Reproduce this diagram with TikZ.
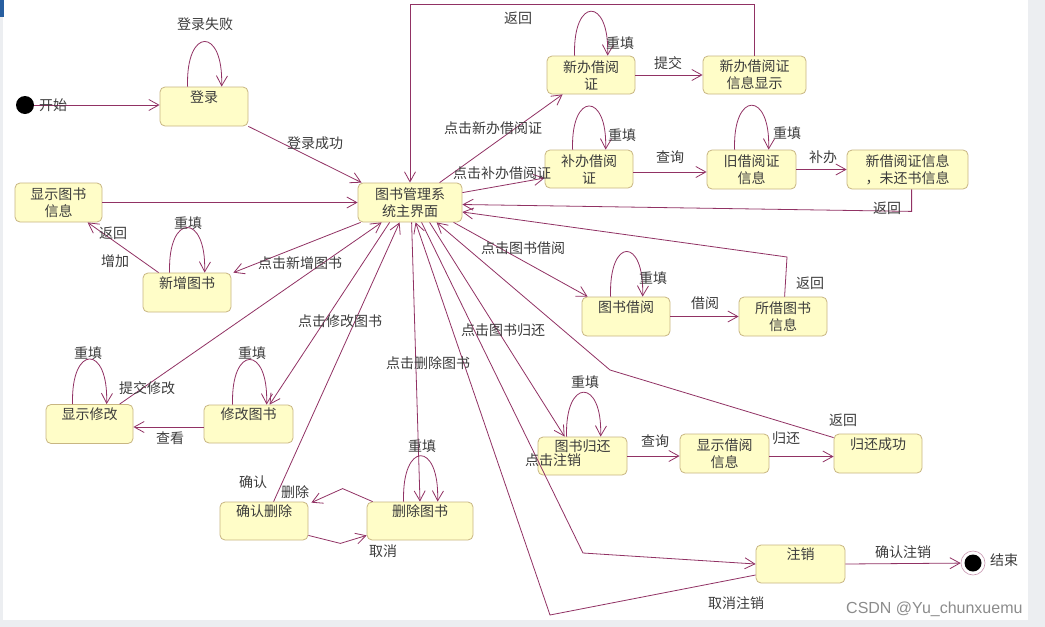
\documentclass[tikz,border=0pt]{standalone}
\usepackage{fontspec}
\newfontfamily\cjk{Noto Sans CJK SC}
\newfontfamily\wmfont{Liberation Sans}
\usetikzlibrary{arrows.meta,calc}
\definecolor{edgec}{RGB}{145,50,100}
\definecolor{nfill}{RGB}{255,253,200}
\definecolor{nbord}{RGB}{200,182,130}
\definecolor{txtc}{RGB}{60,60,60}
\definecolor{framec}{RGB}{236,238,241}
\definecolor{cornerc}{RGB}{40,95,160}
\begin{document}
\begin{tikzpicture}[x=1pt,y=-1pt,
  every node/.style={font=\cjk\fontsize{14}{17}\selectfont, text=txtc},
  st/.style={draw=nbord, fill=nfill, rounded corners=5pt, minimum height=39pt, minimum width=88pt, inner sep=0pt, align=center, line width=0.8pt},
  topt/.style={text height=13pt, text depth=22pt},
  arr/.style={draw=edgec, line width=0.8pt, -{Straight Barb[length=10pt,width=11pt]}},
  lbl/.style={inner sep=0pt},
]
\useasboundingbox (0,0) rectangle (1045,627);
\fill[white] (0,0) rectangle (1045,627);
\fill[framec] (1028,0) rectangle (1045,627);
\fill[framec] (0,620) rectangle (1045,627);
\fill[framec] (0,0) rectangle (3,620);
\fill[cornerc] (0,0) rectangle (4,17);

% states
\node[st, topt] (login) at (204,106.5) {登录};
\node[st, minimum width=87pt] (showbook) at (58.5,202.5) {显示图书\\信息};
\node[st, minimum width=104pt] (main) at (410,202.5) {图书管理系\\统主界面};
\node[st, minimum height=38pt] (newcard) at (591,75) {新办借阅\\证};
\node[st, minimum width=103pt, minimum height=38pt] (newinfo) at (754.5,75) {新办借阅证\\信息显示};
\node[st, minimum height=38pt] (recard) at (589,169) {补办借阅\\证};
\node[st, minimum width=89pt] (oldinfo) at (751.5,169.5) {旧借阅证\\信息};
\node[st, minimum width=121pt] (newinfo2) at (907.5,169.5) {新借阅证信息\\，未还书信息};
\node[st, topt] (addbook) at (187,292.5) {新增图书};
\node[st, topt] (borrow) at (626,316.5) {图书借阅};
\node[st] (borrowed) at (783,316.5) {所借图书\\信息};
\node[st, minimum width=87pt, topt] (showmod) at (89.5,424) {显示修改};
\node[st, minimum width=89pt, minimum height=38pt, topt] (modbook) at (248.5,424) {修改图书};
\node[st, minimum width=89pt, minimum height=38pt, topt] (retbook) at (582.5,456) {图书归还};
\node[st, minimum width=89pt] (showborrow) at (724.5,453.5) {显示借阅\\信息};
\node[st, topt] (retok) at (878,453.5) {归还成功};
\node[st, minimum height=38pt, topt] (confdel) at (264,521) {确认删除};
\node[st, minimum width=106pt, minimum height=38pt, topt] (delbook) at (420,521) {删除图书};
\node[st, minimum width=89pt, minimum height=38pt, topt] (logout) at (800.5,564) {注销};

\node[circle, fill=black, minimum size=18pt, inner sep=0pt] (start) at (25,105) {};
\node[circle, draw=edgec!50, line width=0.6pt, minimum size=24pt, inner sep=0pt,
  path picture={\fill[black] (path picture bounding box.center) circle (8.5pt);}] (end) at (973,563) {};

% connectors
\draw[arr] (start) -- (start -| login.west);
\draw[arr] ([xshift=28pt]login.north west) .. controls +(-2,-60) and +(2,-60) .. ([xshift=62pt]login.north west);
\draw[arr] (login.south east) -- ([xshift=4pt]main.north west);
\draw[arr] (showbook.east) -- (main.west);
\draw[arr] ([xshift=16pt]addbook.north west) -- ([xshift=73pt]showbook.south west);
\draw[arr] ([xshift=27pt]addbook.north west) .. controls +(-2,-60) and +(2,-60) .. ([xshift=62pt]addbook.north west);
\draw[arr] ([xshift=3pt]main.south west) -- ([xshift=2pt]addbook.north east);
\draw[arr] ([xshift=74pt]showmod.north west) -- ([xshift=24pt]main.south west);
\draw[arr] ([xshift=32pt]main.south west) -- ([xshift=66pt]modbook.north west);
\draw[arr] ([xshift=27pt]showmod.north west) .. controls +(-2,-60) and +(2,-60) .. ([xshift=61pt]showmod.north west);
\draw[arr] ([xshift=29pt]modbook.north west) .. controls +(-2,-60) and +(2,-60) .. ([xshift=63pt]modbook.north west);
\draw[arr] ([yshift=-3pt]modbook.west) -- ([yshift=-3pt]showmod.east);
\draw[arr] ([xshift=54pt]confdel.north west) -- ([xshift=42pt]main.south west);
\draw[arr] ([xshift=6pt]delbook.north west) -- ++(-30,-13) -- ([xshift=3pt,yshift=-1pt]confdel.north east);
\draw[arr] ([yshift=5pt]confdel.south east) -- ++(32,8) -- ([yshift=5pt]delbook.south west);
\draw[arr] ([xshift=54pt]main.south west) -- (delbook.north);
\draw[arr] ([xshift=37pt]delbook.north west) .. controls +(-2,-61) and +(2,-61) .. ([xshift=71pt]delbook.north west);
\draw[arr] ([yshift=-11pt]logout.west) -- (550,615) -- ([xshift=58pt]main.south west);
\draw[arr] ([xshift=64pt]main.south west) -- (583,553) -- (logout.west);
\draw[arr] ([xshift=72pt]main.south west) -- ([xshift=27pt]retbook.north west);
\draw[arr] ([yshift=-4pt]retok.north west) -- (610,370) -- ([xshift=79pt]main.south west);
\draw[arr] ([xshift=96pt]main.south west) -- ([xshift=6pt]borrow.north west);
\draw[arr] ([xshift=46pt]borrowed.north west) -- (787,257) -- ([yshift=-9.5pt]main.east);
\draw[arr] ([xshift=65pt]newinfo2.south west) -- ++(0,22) -- ([yshift=-2pt]main.east);
\draw[arr] ([yshift=-10pt]main.north east) -- ([yshift=-9pt]recard.west);
\draw[arr] ([xshift=82pt]main.north west) -- ([xshift=16pt]newcard.south west);
\draw[arr] (newinfo.north) -- ++(0,-51) -| (main.north);
\draw[arr] (newcard.east) -- (newinfo.west);
\draw[arr] ([xshift=28pt]newcard.north west) .. controls +(-2,-59) and +(2,-59) .. ([xshift=61pt]newcard.north west);
\draw[arr] ([xshift=28pt]recard.north west) .. controls +(-2,-58) and +(2,-58) .. ([xshift=61pt]recard.north west);
\draw[arr] ([yshift=-3pt]recard.east) -- ([yshift=-3pt]recard.east -| oldinfo.west);
\draw[arr] ([xshift=28pt]oldinfo.north west) .. controls +(-2,-59) and +(2,-59) .. ([xshift=62pt]oldinfo.north west);
\draw[arr] (oldinfo.east) -- (newinfo2.west);
\draw[arr] ([xshift=29pt]borrow.north west) .. controls +(-2,-60) and +(2,-60) .. ([xshift=61pt]borrow.north west);
\draw[arr] (borrow.east) -- (borrowed.west);
\draw[arr] ([xshift=29pt]retbook.north west) .. controls +(-2,-59) and +(2,-59) .. ([xshift=63pt]retbook.north west);
\draw[arr] (retbook.east) -- (retbook.east -| showborrow.west);
\draw[arr] ([yshift=-3pt]showborrow.east) -- ([yshift=-3pt]showborrow.east -| retok.west);
\draw[arr] (logout.east) -- (end);

% labels
\node[lbl] (lstart) at (53,105) {开始};
\node[lbl] (lfail) at (205,24) {登录失败};
\node[lbl] (lok) at (315,143) {登录成功};
\node[lbl] (lback1) at (113,233) {返回};
\node[lbl] (ladd) at (115,261) {增加};
\node[lbl] (lre1) at (188,223) {重填};
\node[lbl] (lclickadd) at (300,263) {点击新增图书};
\node[lbl] (lsubmod) at (147,388) {提交修改};
\node[lbl] (lclickmod) at (340,321) {点击修改图书};
\node[lbl] (lre2) at (88,353) {重填};
\node[lbl] (lre3) at (252,353) {重填};
\node[lbl] (lview) at (170,438) {查看};
\node[lbl] (lconf) at (253,482) {确认};
\node[lbl] (ldel) at (295,492) {删除};
\node[lbl] (lcancel) at (383,551) {取消};
\node[lbl] (lclickdel) at (428,363) {点击删除图书};
\node[lbl] (lre4) at (422,446) {重填};
\node[lbl] (lcancellog) at (736,603) {取消注销};
\node[lbl] (lclicklog) at (553,460) {点击注销};
\node[lbl] (lclickret) at (503,330) {点击图书归还};
\node[lbl] (lback2) at (843,420) {返回};
\node[lbl] (lclickbor) at (523,248) {点击图书借阅};
\node[lbl] (lback3) at (810,283) {返回};
\node[lbl] (lback4) at (887,208) {返回};
\node[lbl] (lclickre) at (502,173) {点击补办借阅证};
\node[lbl] (lclicknew) at (493,128) {点击新办借阅证};
\node[lbl] (lback5) at (518,18) {返回};
\node[lbl] (lsubmit) at (668,63) {提交};
\node[lbl] (lre5) at (620,43) {重填};
\node[lbl] (lre6) at (622,135) {重填};
\node[lbl] (lquery1) at (670,157) {查询};
\node[lbl] (lre7) at (787,133) {重填};
\node[lbl] (lredo) at (823,157) {补办};
\node[lbl] (lre8) at (653,278) {重填};
\node[lbl] (lborrow) at (705,303) {借阅};
\node[lbl] (lre9) at (585,382) {重填};
\node[lbl] (lquery2) at (655,441) {查询};
\node[lbl] (lreturn) at (786,438) {归还};
\node[lbl] (lconflog) at (903,552) {确认注销};
\node[lbl] (lend) at (1004,560) {结束};
\node[lbl, anchor=west, font=\wmfont\fontsize{16}{16}\selectfont, text=black!45] (wm) at (846,609) {CSDN @Yu\_chunxuemu};
\end{tikzpicture}
\end{document}
